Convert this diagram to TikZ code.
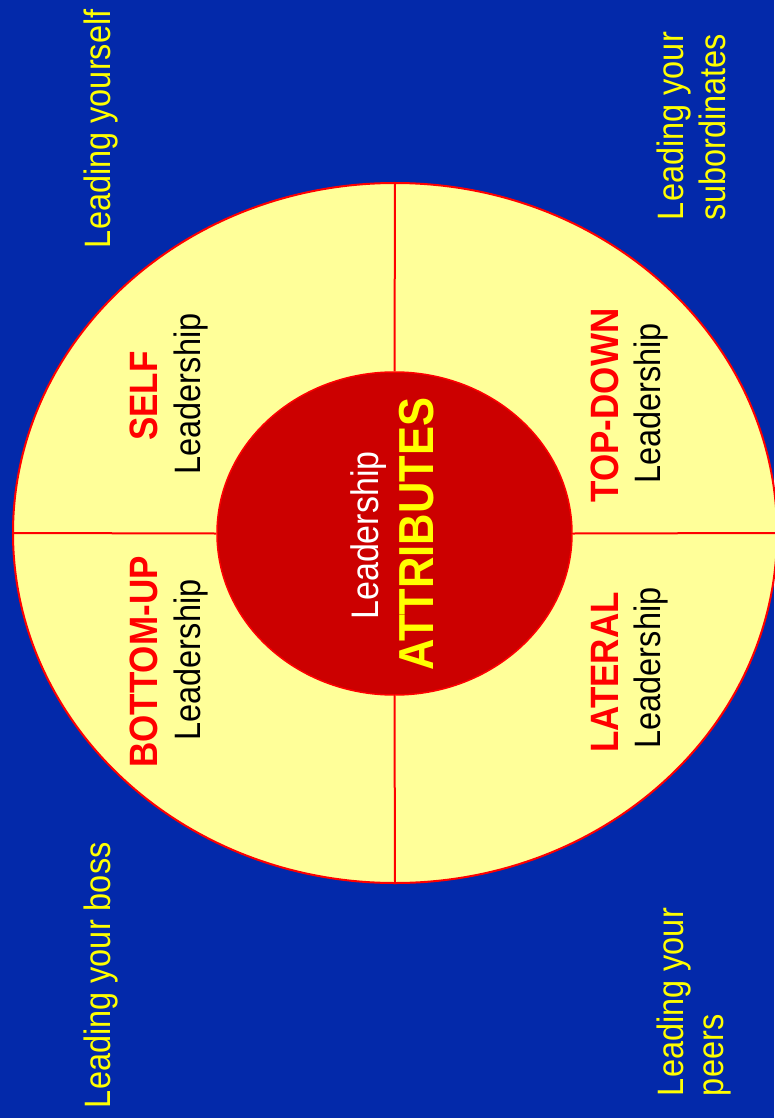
\documentclass[tikz,border=0pt]{standalone}
\usepackage{fontspec}
\setmainfont{Liberation Sans}
\usepackage{graphicx}
\usetikzlibrary{shapes.geometric}
\definecolor{bgblue}{HTML}{0329AA}
\definecolor{paleyellow}{HTML}{FFFF99}
\definecolor{darkred}{HTML}{CC0000}
\definecolor{brightred}{HTML}{FF0000}
\definecolor{txtyellow}{HTML}{FFFF00}
\newcommand\stretchtxt[1]{\scalebox{1}[1.13]{#1}}
\begin{document}
\begin{tikzpicture}[x=1pt,y=-1pt,
  rottext/.style={inner sep=0pt, outer sep=0pt, rotate=90},
  plain/.style={rottext, font=\fontsize{32.5}{39}\selectfont},
  boldlbl/.style={rottext, anchor=base, text=brightred, font=\bfseries\fontsize{35}{42}\selectfont},
  sublbl/.style={plain, anchor=base, text=black},
  note/.style={plain, anchor=base west, text=txtyellow},
  divider/.style={draw=brightred, line width=2pt},
]
\fill[bgblue] (0,0) rectangle (774,1118);
\useasboundingbox (0,0) rectangle (774,1118);

\node[ellipse, draw=brightred, line width=2pt, fill=paleyellow,
      minimum width=764pt, minimum height=700pt, inner sep=0pt] (outer) at (395,533) {};

\node[ellipse, draw=brightred, line width=1.5pt, fill=darkred,
      minimum width=355pt, minimum height=323pt, inner sep=0pt] (inner) at (394.5,533.5) {};

\draw[divider] (outer.north) -- (inner.north);
\draw[divider] (outer.south) -- (inner.south);
\draw[divider] (outer.west) -- (inner.west);
\draw[divider] (outer.east) -- (inner.east);

% centre
\node[plain, anchor=base, text=white, font=\fontsize{34}{40}\selectfont] (cl) at (378,535.5) {\stretchtxt{Leadership}};
\node[rottext, anchor=base, text=txtyellow, font=\bfseries\fontsize{43.5}{52}\selectfont] (ca) at (433,534) {\stretchtxt{ATTRIBUTES}};

% quadrants
\node[boldlbl] (self) at (157,396) {\stretchtxt{SELF}};
\node[sublbl] (selfl) at (200,394) {\stretchtxt{Leadership}};
\node[boldlbl] (bu) at (157,662) {\stretchtxt{BOTTOM-UP}};
\node[sublbl] (bul) at (200,660) {\stretchtxt{Leadership}};
\node[boldlbl] (td) at (618,405.5) {\stretchtxt{TOP-DOWN}};
\node[sublbl] (tdl) at (660,403.5) {\stretchtxt{Leadership}};
\node[boldlbl] (lat) at (618,672.5) {\stretchtxt{LATERAL}};
\node[sublbl] (latl) at (660,668) {\stretchtxt{Leadership}};

% corner notes
\node[note] (n1) at (110,248) {\stretchtxt{Leading yourself}};
\node[note] (n2a) at (683,220) {\stretchtxt{Leading your}};
\node[note] (n2b) at (725,220) {\stretchtxt{subordinates}};
\node[note] (n3) at (110,1108) {\stretchtxt{Leading your boss}};
\node[note] (n4a) at (683,1096) {\stretchtxt{Leading your}};
\node[note] (n4b) at (723,1096) {\stretchtxt{peers}};
\end{tikzpicture}
\end{document}
